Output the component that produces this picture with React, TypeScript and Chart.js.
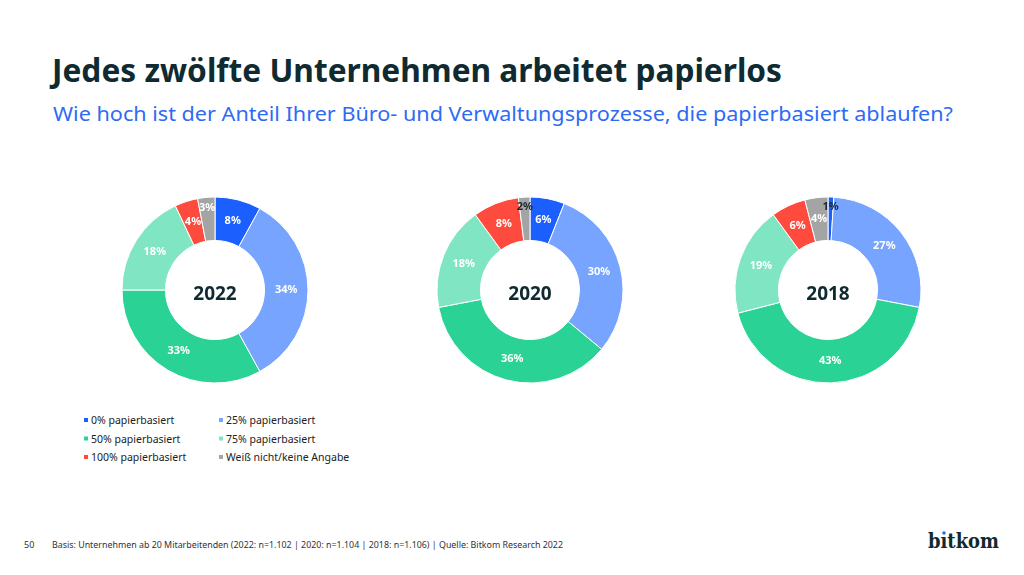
import React, { useEffect, useRef } from 'react';
import { Chart, registerables } from 'chart.js';

Chart.register(...registerables);

// ---------- data ----------
const categories = [
  '0% papierbasiert',
  '25% papierbasiert',
  '50% papierbasiert',
  '75% papierbasiert',
  '100% papierbasiert',
  'Weiß nicht/keine Angabe',
];
const years = ['2022', '2020', '2018'];
const values2022 = [8, 34, 33, 18, 4, 3];
const values2020 = [6, 30, 36, 18, 8, 2];
const values2018 = [1, 27, 43, 19, 6, 4];
const seriesValues = [values2022, values2020, values2018];

const titleText = 'Jedes zwölfte Unternehmen arbeitet papierlos';
const subtitleText =
  'Wie hoch ist der Anteil Ihrer Büro- und Verwaltungsprozesse, die papierbasiert ablaufen?';
const footerText =
  'Basis: Unternehmen ab 20 Mitarbeitenden (2022: n=1.102 | 2020: n=1.104 | 2018: n=1.106) | Quelle: Bitkom Research 2022';
const pageNumber = '50';

// ---------- styles ----------
const colors = ['#1c5fff', '#77a4ff', '#2ad395', '#80e5c2', '#ff4b3e', '#a4a4a4'];
const DARK = '#0f2a30';
const FONT = '"Noto Sans", "Open Sans", sans-serif';
const donutCentersX = [215, 530, 828];
const donutCenterY = 290;
const CANVAS = 200;

function Donut({ year, values, cx }: { year: string; values: number[]; cx: number }) {
  const ref = useRef<HTMLCanvasElement | null>(null);
  useEffect(() => {
    if (!ref.current) return;
    const labelPlugin = {
      id: 'segLabels',
      afterDatasetsDraw(chart: any) {
        const ctx = chart.ctx;
        const meta = chart.getDatasetMeta(0);
        ctx.save();
        ctx.font = `bold 11px ${FONT}`;
        ctx.textAlign = 'center';
        ctx.textBaseline = 'middle';
        meta.data.forEach((arc: any, i: number) => {
          const v = values[i];
          const p = arc.getProps(['x', 'y', 'startAngle', 'endAngle', 'innerRadius', 'outerRadius'], true);
          const mid = (p.startAngle + p.endAngle) / 2;
          const r = v <= 3 ? p.outerRadius - 10 : (p.innerRadius + p.outerRadius) / 2;
          ctx.fillStyle = v <= 2 ? '#1b2b30' : '#ffffff';
          ctx.fillText(v + '%', p.x + Math.cos(mid) * r, p.y + Math.sin(mid) * r);
        });
        const c = meta.data[0];
        ctx.font = `bold 19px ${FONT}`;
        ctx.fillStyle = DARK;
        ctx.textBaseline = 'alphabetic';
        ctx.fillText(year, c.x, c.y + 10);
        ctx.restore();
      },
    };
    const chart = new Chart(ref.current, {
      type: 'doughnut',
      data: {
        labels: categories,
        datasets: [
          {
            data: values,
            backgroundColor: colors,
            borderColor: '#ffffff',
            borderWidth: 1,
          },
        ],
      },
      options: {
        responsive: false,
        animation: false,
        radius: 93,
        cutout: 53,
        layout: { padding: 0 },
        plugins: { legend: { display: false }, tooltip: { enabled: false } },
      } as any,
      plugins: [labelPlugin],
    });
    return () => chart.destroy();
  }, [year, values]);
  return (
    <canvas
      ref={ref}
      width={CANVAS}
      height={CANVAS}
      style={{
        position: 'absolute',
        left: cx - CANVAS / 2,
        top: donutCenterY - CANVAS / 2,
        width: CANVAS,
        height: CANVAS,
      }}
    />
  );
}

export default function App() {
  const legendCols = [84, 219];
  const legendRows = [424, 442.5, 461];
  return (
    <div
      style={{
        position: 'fixed',
        left: 0,
        top: 0,
        width: 1024,
        height: 575,
        background: '#ffffff',
        overflow: 'hidden',
      }}
    >
      <svg
        width={1024}
        height={575}
        style={{ position: 'absolute', left: 0, top: 0 }}
        fontFamily={FONT}
      >
        <text x={52} y={82} fontSize={33} fontWeight={700} fill={DARK} textLength={730} lengthAdjust="spacingAndGlyphs">
          {titleText}
        </text>
        <text x={53} y={121} fontSize={20} fill="#2e6bf5" textLength={900} lengthAdjust="spacingAndGlyphs">
          {subtitleText}
        </text>
        {categories.map((c, i) => {
          const col = i % 2;
          const row = Math.floor(i / 2);
          const x = legendCols[col];
          const y = legendRows[row];
          return (
            <g key={c}>
              <rect x={x} y={y - 6} width={4} height={4} fill={colors[i]} />
              <text x={x + 7} y={y} fontSize={10.5} fill="#222">
                {c}
              </text>
            </g>
          );
        })}
        <text x={24} y={548} fontSize={9} fill="#333">
          {pageNumber}
        </text>
        <text x={52} y={548} fontSize={9} fill="#333" textLength={511} lengthAdjust="spacingAndGlyphs">
          {footerText}
        </text>
        <text
          x={928}
          y={548}
          fontSize={21}
          fontWeight={700}
          fontFamily='"DejaVu Serif", "Liberation Serif", serif'
          fill={DARK}
          textLength={71}
          lengthAdjust="spacingAndGlyphs"
        >
          bıtkom
        </text>
        <circle cx={944} cy={533} r={1.8} fill="#2e6bf5" />
      </svg>
      {years.map((y, i) => (
        <Donut key={y} year={y} values={seriesValues[i]} cx={donutCentersX[i]} />
      ))}
    </div>
  );
}
